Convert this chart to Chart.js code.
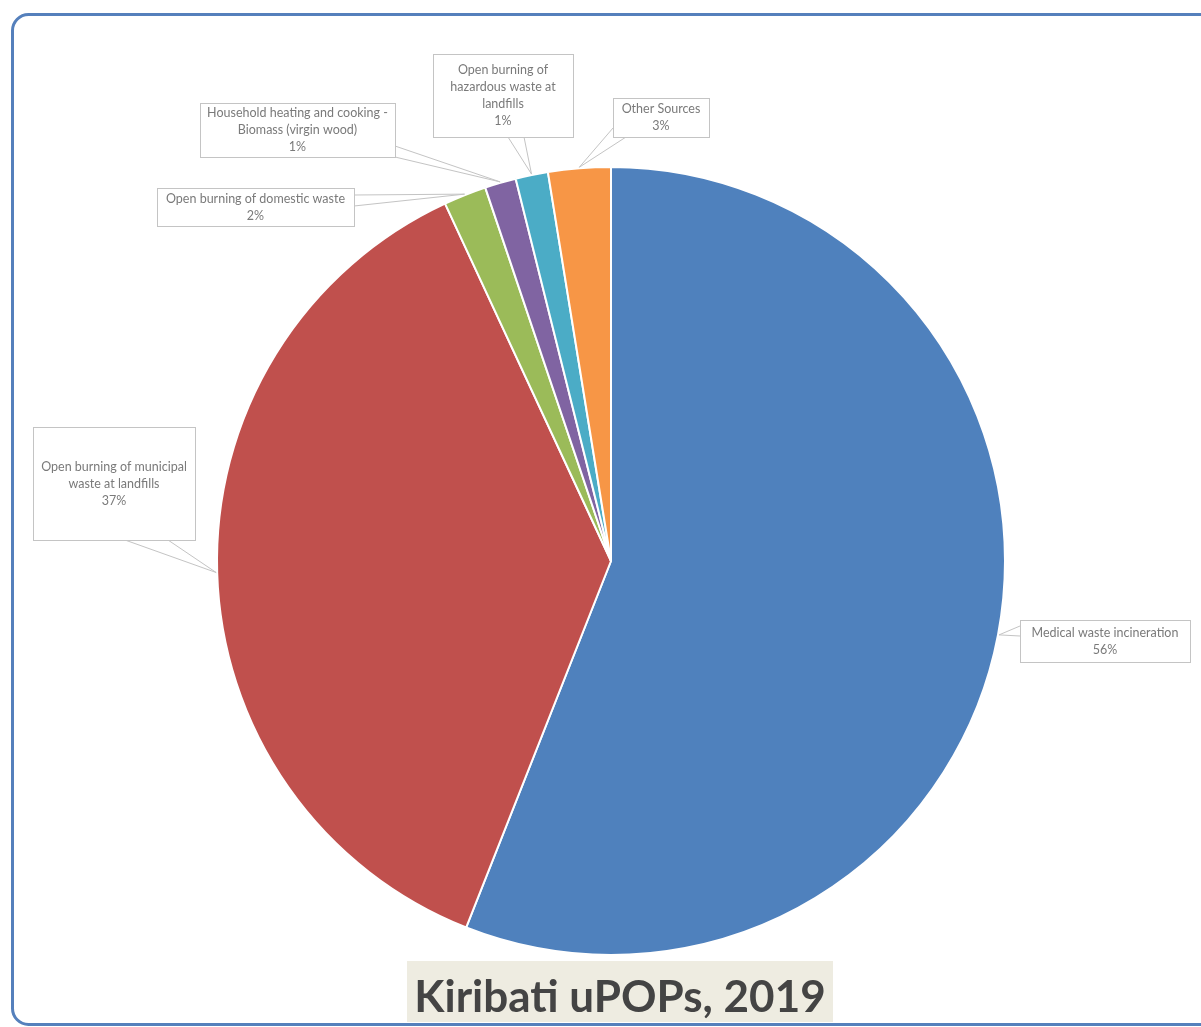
<!DOCTYPE html>
<html>
<head>
<meta charset="utf-8">
<title>Kiribati uPOPs, 2019</title>
<script src="https://cdn.jsdelivr.net/npm/chart.js@4.4.1/dist/chart.umd.min.js"></script>
<style>
    html, body { margin: 0; padding: 0; background: #fff; }
    #chart1 { display: block; }
</style>
</head>
<body>
<canvas id="chart1" width="1201" height="1027"></canvas>
<script>
// data (share of uPOPs releases, %)
const categories = [
    'Medical waste incineration',
    'Open burning of municipal waste at landfills',
    'Open burning of domestic waste',
    'Household heating and cooking - Biomass (virgin wood)',
    'Open burning of hazardous waste at landfills',
    'Other Sources'
]
const values = [56.0, 37.1, 1.75, 1.28, 1.33, 2.56]
const labelLines = [
    ['Medical waste incineration'],
    ['Open burning of municipal', 'waste at landfills'],
    ['Open burning of domestic waste'],
    ['Household heating and cooking -', 'Biomass (virgin wood)'],
    ['Open burning of', 'hazardous waste at', 'landfills'],
    ['Other Sources']
]
const colors = ['#4F81BD', '#C0504D', '#9BBB59', '#8064A2', '#4BACC6', '#F79646']
const chartTitle = 'Kiribati uPOPs, 2019'

// callout boxes: x, y, w, h and the two points where the pointer leaves the box
const callouts = [
    { x: 1020, y: 620, w: 170, h: 42, base: [[1020, 626], [1020, 636]] },
    { x: 33, y: 427, w: 162, h: 113, base: [[125, 540], [168, 540]] },
    { x: 157, y: 188, w: 197, h: 38, base: [[354, 195], [354, 206]] },
    { x: 200, y: 103, w: 195, h: 54, base: [[395, 146], [395, 157]] },
    { x: 433, y: 54, w: 140, h: 83, base: [[508, 137], [524, 137]] },
    { x: 613, y: 98, w: 96, h: 39, base: [[613, 128], [626, 137]] }
]

const total = values.reduce((a, b) => a + b, 0)

const frame = {
    id: 'frame',
    beforeDraw(chart) {
        const c = chart.ctx
        c.save()
        c.fillStyle = '#fff'
        c.fillRect(0, 0, chart.width, chart.height)
        c.strokeStyle = '#5580BC'
        c.lineWidth = 3
        c.beginPath()
        c.roundRect(12.5, 14.5, 1220, 1010, 16)
        c.stroke()
        c.restore()
    }
}

const callout = {
    id: 'callout',
    afterDatasetsDraw(chart) {
        const c = chart.ctx
        const meta = chart.getDatasetMeta(0)
        c.save()
        meta.data.forEach((arc, i) => {
            const box = callouts[i]
            const mid = (arc.startAngle + arc.endAngle) / 2
            const ax = arc.x + Math.cos(mid) * (arc.outerRadius + 1)
            const ay = arc.y + Math.sin(mid) * (arc.outerRadius + 1)

            c.strokeStyle = '#c4c4c4'
            c.lineWidth = 1
            c.fillStyle = '#fff'
            c.beginPath()
            c.moveTo(box.base[0][0], box.base[0][1])
            c.lineTo(ax, ay)
            c.lineTo(box.base[1][0], box.base[1][1])
            c.stroke()

            c.fillRect(box.x + 0.5, box.y + 0.5, box.w, box.h)
            c.strokeRect(box.x + 0.5, box.y + 0.5, box.w, box.h)

            const lines = labelLines[i].concat([Math.round(values[i] / total * 100) + '%'])
            c.fillStyle = '#7a7a7a'
            c.font = '12.5px Lato'
            c.textAlign = 'center'
            c.textBaseline = 'middle'
            const lh = 17
            const top = box.y + box.h / 2 - (lines.length - 1) * lh / 2
            lines.forEach((t, k) => c.fillText(t, box.x + box.w / 2, top + k * lh))
        })
        c.restore()
    }
}

const bottomTitle = {
    id: 'bottomTitle',
    afterDraw(chart) {
        const c = chart.ctx
        c.save()
        c.fillStyle = '#EEECE1'
        c.fillRect(407, 961, 426, 61)
        c.fillStyle = '#444'
        c.font = 'bold 44px Lato'
        c.textAlign = 'center'
        c.textBaseline = 'alphabetic'
        c.fillText(chartTitle, 620, 1012)
        c.restore()
    }
}

const ctx1 = document.getElementById('chart1')

new Chart(ctx1, {
    type: 'pie',
    data: {
        labels: categories,
        datasets: [{
            data: values,
            backgroundColor: colors,
            borderColor: '#fff',
            borderWidth: 2
        }]
    },
    options: {
        responsive: false,
        animation: false,
        layout: {
            padding: { left: 216, right: 195, top: 166, bottom: 71 }
        },
        plugins: {
            legend: { display: false },
            tooltip: { enabled: false }
        }
    },
    plugins: [frame, callout, bottomTitle]
})
</script>
</body>
</html>
